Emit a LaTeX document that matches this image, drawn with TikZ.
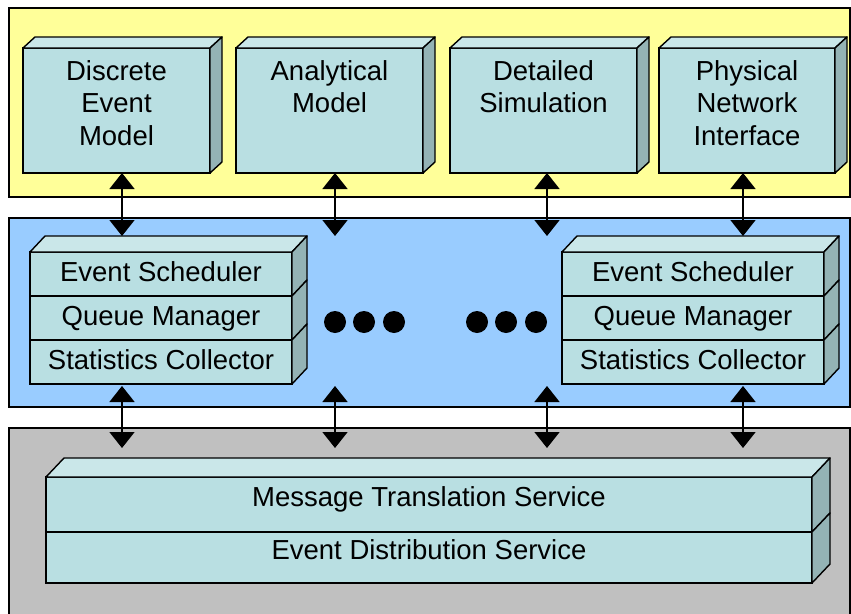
\documentclass[tikz,border=0pt]{standalone}
\usepackage{fontspec}
\setmainfont{Liberation Sans}
\usepackage{tikz}
\usetikzlibrary{positioning,arrows.meta,calc}

\definecolor{appyellow}{HTML}{FFFF99}
\definecolor{schedblue}{HTML}{99CCFF}
\definecolor{commgray}{HTML}{C0C0C0}
\definecolor{facefront}{HTML}{B9DFE2}
\definecolor{facetop}{HTML}{CAE7E9}
\definecolor{faceside}{HTML}{94B3B5}

\begin{document}
\begin{tikzpicture}[x=1pt,y=-1pt,
		font=\fontsize{27.5}{32.5}\selectfont,
		layer/.style={draw,line width=1.6pt,anchor=north west,minimum width=841pt,inner sep=0pt},
		face/.style={draw,line width=1.4pt,fill=facefront,inner sep=0pt,outer sep=0pt},
		module/.style={face,minimum width=187pt,minimum height=125pt},
		modtext/.style={align=center,inner sep=0pt},
		row/.style={face,minimum width=262pt,minimum height=44pt,text height=20pt,text depth=6pt},
		svc/.style={face,minimum width=766pt,text height=20pt,text depth=16pt},
		topface/.style={draw,line width=1.4pt,fill=facetop,line join=round},
		sideface/.style={draw,line width=1.4pt,fill=faceside,line join=round},
		link/.style={{Triangle[width=25pt,length=16pt]}-{Triangle[width=25pt,length=16pt]},line width=1.6pt},
		dot/.style={circle,fill=black,minimum size=22pt,inner sep=0pt}
		]
		\useasboundingbox (0,0) rectangle (851,613);

		% layers
		\node[layer,fill=appyellow,minimum height=189pt] (apps) at (8,7) {};
		\node[layer,fill=schedblue,minimum height=189pt] (sched) at (8,217) {};
		\node[layer,fill=commgray,minimum height=200pt] (comm) at (8,427) {};

		% model boxes
		\node[module,anchor=north west] (dem) at (23,48) {};
		\node[module,right=26pt of dem] (am) {};
		\node[module,right=27pt of am] (ds) {};
		\node[module,minimum width=176pt,right=22pt of ds] (pni) {};
		\node[modtext,below=12pt of dem.north] (dem-t) {Discrete\\Event\\Model};
		\node[modtext,below=12pt of am.north] (am-t) {Analytical\\Model};
		\node[modtext,below=12pt of ds.north] (ds-t) {Detailed\\Simulation};
		\node[modtext,below=12pt of pni.north] (pni-t) {Physical\\Network\\Interface};
		\foreach \m in {dem,am,ds,pni} {
			\draw[topface] (\m.north west) -- ++(12pt,11pt) -- ($(\m.north east)+(12pt,11pt)$) -- (\m.north east) -- cycle;
			\draw[sideface] (\m.north east) -- ++(12pt,11pt) -- ($(\m.south east)+(12pt,11pt)$) -- (\m.south east) -- cycle;
		}

		% scheduler stacks
		\node[row,anchor=north west] (es1) at (30,252) {Event Scheduler};
		\node[row,below=0pt of es1] (qm1) {Queue Manager};
		\node[row,below=0pt of qm1] (sc1) {Statistics Collector};
		\node[row,anchor=north west] (es2) at (562,252) {Event Scheduler};
		\node[row,below=0pt of es2] (qm2) {Queue Manager};
		\node[row,below=0pt of qm2] (sc2) {Statistics Collector};
		\foreach \m in {es1,es2}
			\draw[topface] (\m.north west) -- ++(15pt,16pt) -- ($(\m.north east)+(15pt,16pt)$) -- (\m.north east) -- cycle;
		\foreach \m in {es1,qm1,sc1,es2,qm2,sc2}
			\draw[sideface] (\m.north east) -- ++(15pt,16pt) -- ($(\m.south east)+(15pt,16pt)$) -- (\m.south east) -- cycle;

		\foreach \x [count=\i] in {335,364,394,477,506,536}
			\node[dot] (dot\i) at (\x,322) {};

		% services
		\node[svc,anchor=north west,minimum height=55pt] (mts) at (46,477) {Message Translation Service};
		\node[svc,below=0pt of mts,minimum height=51pt] (eds) {Event Distribution Service};
		\draw[topface] (mts.north west) -- ++(18pt,19pt) -- ($(mts.north east)+(18pt,19pt)$) -- (mts.north east) -- cycle;
		\foreach \m in {mts,eds}
			\draw[sideface] (\m.north east) -- ++(18pt,19pt) -- ($(\m.south east)+(18pt,19pt)$) -- (\m.south east) -- cycle;

		% links between layers
		\foreach \x [count=\i] in {122,335,547,743}
			\coordinate (c\i) at (\x,0);
		\coordinate (hi) at (0,236);
		\coordinate (lo) at (0,386);
		\coordinate (bot) at (0,448);
		\foreach \m [count=\i] in {dem,am,ds,pni}
			\draw[link] (\m.south -| c\i) -- (c\i |- hi);
		\foreach \i in {1,...,4}
			\draw[link] (c\i |- lo) -- (c\i |- bot);

	\end{tikzpicture}
\end{document}
